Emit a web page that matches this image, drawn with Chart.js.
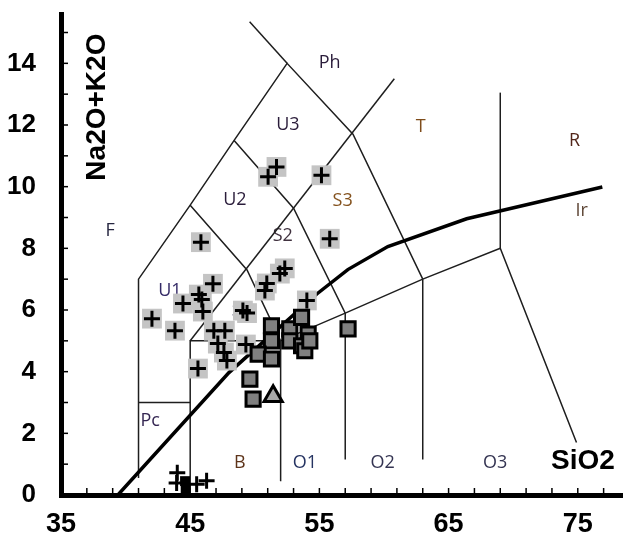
<!DOCTYPE html>
<html>
<head>
<meta charset="utf-8">
<title>TAS diagram</title>
<script src="https://cdn.jsdelivr.net/npm/chart.js@4.4.1/dist/chart.umd.min.js"></script>
<style>
    html, body { margin: 0; padding: 0; background: #ffffff; }
    #chart-container { width: 623px; height: 533px; }
</style>
</head>
<body>
<div id="chart-container"><canvas id="tasChart" width="623" height="533"></canvas></div>
<script>
// Axis ticks (minor every 2 / every 1, labels every 10 / every 2)
var xTickValues = [35, 37, 39, 41, 43, 45, 47, 49, 51, 53, 55, 57, 59, 61, 63, 65, 67, 69, 71, 73, 75, 77];
var xLabelValues = [35, 45, 55, 65, 75];
var yTickValues = [0, 1, 2, 3, 4, 5, 6, 7, 8, 9, 10, 11, 12, 13, 14, 15];
var yLabelValues = [0, 2, 4, 6, 8, 10, 12, 14];

// Samples plotted as crosses on a light grey box
var crossSiO2 = [45.83, 51.03, 51.68, 55.16, 55.80, 52.32, 51.94, 50.93, 50.78, 46.76, 45.67, 45.90, 44.44,
                 45.98, 42.04, 43.82, 46.83, 47.68, 47.14, 47.61, 47.84, 45.60, 49.08, 49.40, 49.31, 54.03];
var crossAlk  = [8.20, 10.32, 10.64, 10.37, 8.31, 7.35, 7.18, 6.86, 6.63, 6.85, 6.50, 6.34, 6.21,
                 5.95, 5.72, 5.33, 5.33, 5.33, 4.91, 4.62, 4.36, 4.10, 5.98, 5.90, 4.88, 6.31];

// Plain crosses near the SiO2 axis
var plainCrossSiO2 = [44.00, 43.95, 45.50, 46.27];
var plainCrossAlk  = [0.72, 0.39, 0.35, 0.46];

// Small black squares near the SiO2 axis
var blackSqSiO2 = [44.60, 44.65];
var blackSqAlk  = [0.45, 0.15];

// Dark grey squares
var squareSiO2 = [51.29, 51.29, 50.26, 51.29, 52.71, 53.62, 52.71, 54.13, 53.62, 53.87, 54.26, 49.62, 49.87, 57.22];
var squareAlk  = [5.49, 5.00, 4.57, 4.41, 5.39, 5.76, 5.00, 5.22, 4.84, 4.68, 5.00, 3.76, 3.11, 5.39];

// Triangle
var triangleSiO2 = [51.42];
var triangleAlk  = [3.20];

// Field boundaries (SiO2, Na2O+K2O)
var fieldLines = [
    [[41, 0.55], [41, 7], [45, 9.4], [48.4, 11.5], [52.5, 14], [57.6, 11.7], [63, 7]],
    [[49.6, 15.35], [52.5, 14]],
    [[41, 3], [45, 3]],
    [[45, 0.05], [45, 5], [52, 5], [57, 5.9], [63, 7], [69, 8], [74.9, 1.7]],
    [[45, 5], [60.8, 13.5]],
    [[45, 9.4], [49.4, 7.3], [52, 5], [52, 0.45]],
    [[48.4, 11.5], [53, 9.3], [57, 5.9], [57, 1.15]],
    [[63, 7], [63, 1.15]],
    [[69, 8], [69, 13.05]]
];

// Alkaline / subalkaline divide (Irvine)
var irvineSiO2 = [39.4, 48.0, 54.8, 57.2, 60.3, 66.4, 76.9];
var irvineAlk  = [0, 3.97, 6.52, 7.31, 8.06, 8.96, 9.99];

// Field names
var fieldNames = ["Ph", "U3", "T", "R", "F", "U2", "S2", "S3", "Ir", "U1", "S1", "Pc", "B", "O1", "O2", "O3"];
var fieldSiO2  = [55.8, 52.56, 62.84, 74.75, 38.8, 48.46, 52.17, 56.8, 75.3, 43.43, 49.0, 41.9, 48.84, 53.87, 59.9, 68.6];
var fieldAlk   = [14.0, 12.0, 11.93, 11.5, 8.58, 9.56, 8.42, 9.53, 9.23, 6.63, 5.98, 2.41, 1.04, 1.04, 1.04, 1.04];
var fieldColors = ["#2a1c3a", "#2a1c3a", "#7e4c1a", "#52261a", "#262640", "#2a1c3a", "#40323f", "#84521e",
                   "#5e4636", "#342a66", "#343458", "#342652", "#5e341a", "#263462", "#343452", "#343452"];

function toPoints(xs, ys) {
    return xs.map(function (x, i) { return { x: x, y: ys[i] }; });
}

// Build datasets
var datasets = [];

fieldLines.forEach(function (line) {
    datasets.push({
        data: line.map(function (p) { return { x: p[0], y: p[1] }; }),
        showLine: true,
        borderColor: "#1e1e1e",
        borderWidth: 1.5,
        pointRadius: 0,
        fill: false,
        order: 20
    });
});

datasets.push({
    data: toPoints(irvineSiO2, irvineAlk),
    showLine: true,
    borderColor: "#000000",
    borderWidth: 3.5,
    pointRadius: 0,
    fill: false,
    order: 15
});

// grey boxes behind crosses
datasets.push({
    data: toPoints(crossSiO2, crossAlk),
    pointStyle: "rect",
    pointRadius: 14,
    backgroundColor: "#c4c4c4",
    borderWidth: 0,
    order: 6
});

datasets.push({
    data: toPoints(crossSiO2, crossAlk),
    pointStyle: "cross",
    pointRadius: 8,
    borderColor: "#000000",
    borderWidth: 3,
    order: 5
});

datasets.push({
    data: toPoints(plainCrossSiO2, plainCrossAlk),
    pointStyle: "cross",
    pointRadius: 8,
    borderColor: "#000000",
    borderWidth: 3,
    order: 5
});

datasets.push({
    data: toPoints(blackSqSiO2, blackSqAlk),
    pointStyle: "rect",
    pointRadius: 7,
    backgroundColor: "#000000",
    borderWidth: 0,
    order: 4
});

datasets.push({
    data: toPoints(squareSiO2, squareAlk),
    pointStyle: "rect",
    pointRadius: 10,
    backgroundColor: "#808080",
    borderColor: "#000000",
    borderWidth: 3,
    order: 2
});

datasets.push({
    data: toPoints(triangleSiO2, triangleAlk),
    pointStyle: "triangle",
    pointRadius: 10.5,
    backgroundColor: "#a8a8a8",
    borderColor: "#000000",
    borderWidth: 3,
    order: 1
});

// Plugin: inner tick marks, field names and axis titles
var tasDecor = {
    id: "tasDecor",
    beforeDatasetsDraw: function (chart) {
        var ctx = chart.ctx;
        var xs = chart.scales.x;
        var ys = chart.scales.y;
        var area = chart.chartArea;

        ctx.save();
        ctx.strokeStyle = "#000000";
        ctx.lineWidth = 1.5;
        xTickValues.forEach(function (v) {
            var px = xs.getPixelForValue(v);
            ctx.beginPath();
            ctx.moveTo(px, area.bottom);
            ctx.lineTo(px, area.bottom - 7);
            ctx.stroke();
        });
        yTickValues.forEach(function (v) {
            var py = ys.getPixelForValue(v);
            ctx.beginPath();
            ctx.moveTo(area.left, py);
            ctx.lineTo(area.left + 7, py);
            ctx.stroke();
        });

        ctx.textAlign = "center";
        ctx.textBaseline = "middle";
        ctx.font = "18px 'Open Sans'";
        fieldNames.forEach(function (name, i) {
            ctx.fillStyle = fieldColors[i];
            ctx.fillText(name, xs.getPixelForValue(fieldSiO2[i]), ys.getPixelForValue(fieldAlk[i]));
        });

        // axis titles sit inside the plot
        ctx.fillStyle = "#000000";
        ctx.font = "bold 28px 'Liberation Sans'";
        ctx.fillText("SiO2", xs.getPixelForValue(75.4), ys.getPixelForValue(1.1));

        ctx.translate(xs.getPixelForValue(37.8), ys.getPixelForValue(12.58));
        ctx.rotate(-Math.PI / 2);
        ctx.fillText("Na2O+K2O", 0, 0);
        ctx.restore();
    }
};

var ctx = document.getElementById("tasChart").getContext("2d");

new Chart(ctx, {
    type: "scatter",
    data: { datasets: datasets },
    options: {
        responsive: false,
        animation: false,
        events: [],
        layout: { autoPadding: false, padding: { top: 14, right: 0, bottom: 0, left: 0 } },
        plugins: {
            legend: { display: false },
            tooltip: { enabled: false }
        },
        elements: { line: { tension: 0 } },
        scales: {
            x: {
                type: "linear",
                min: 35,
                max: 78.5,
                afterBuildTicks: function (scale) {
                    scale.ticks = xTickValues.map(function (v) { return { value: v }; });
                },
                afterFit: function (scale) {
                    scale.height = 38;
                    scale.paddingLeft = 0;
                    scale.paddingRight = 0;
                },
                grid: { display: false },
                border: { display: true, color: "#000000", width: 5 },
                ticks: {
                    autoSkip: false,
                    maxRotation: 0,
                    padding: 5,
                    color: "#000000",
                    font: { family: "'Liberation Sans'", weight: "bold", size: 27 },
                    callback: function (value) {
                        return xLabelValues.indexOf(value) >= 0 ? String(value) : "";
                    }
                }
            },
            y: {
                type: "linear",
                min: 0,
                max: 15.6,
                afterBuildTicks: function (scale) {
                    scale.ticks = yTickValues.map(function (v) { return { value: v }; });
                },
                afterFit: function (scale) {
                    scale.width = 61;
                    scale.paddingTop = 0;
                    scale.paddingBottom = 0;
                },
                grid: { display: false },
                border: { display: true, color: "#000000", width: 5 },
                ticks: {
                    autoSkip: false,
                    padding: 17,
                    color: "#000000",
                    font: { family: "'Liberation Sans'", weight: "bold", size: 26 },
                    callback: function (value) {
                        return yLabelValues.indexOf(value) >= 0 ? String(value) : "";
                    }
                }
            }
        }
    },
    plugins: [tasDecor]
});
</script>
</body>
</html>
